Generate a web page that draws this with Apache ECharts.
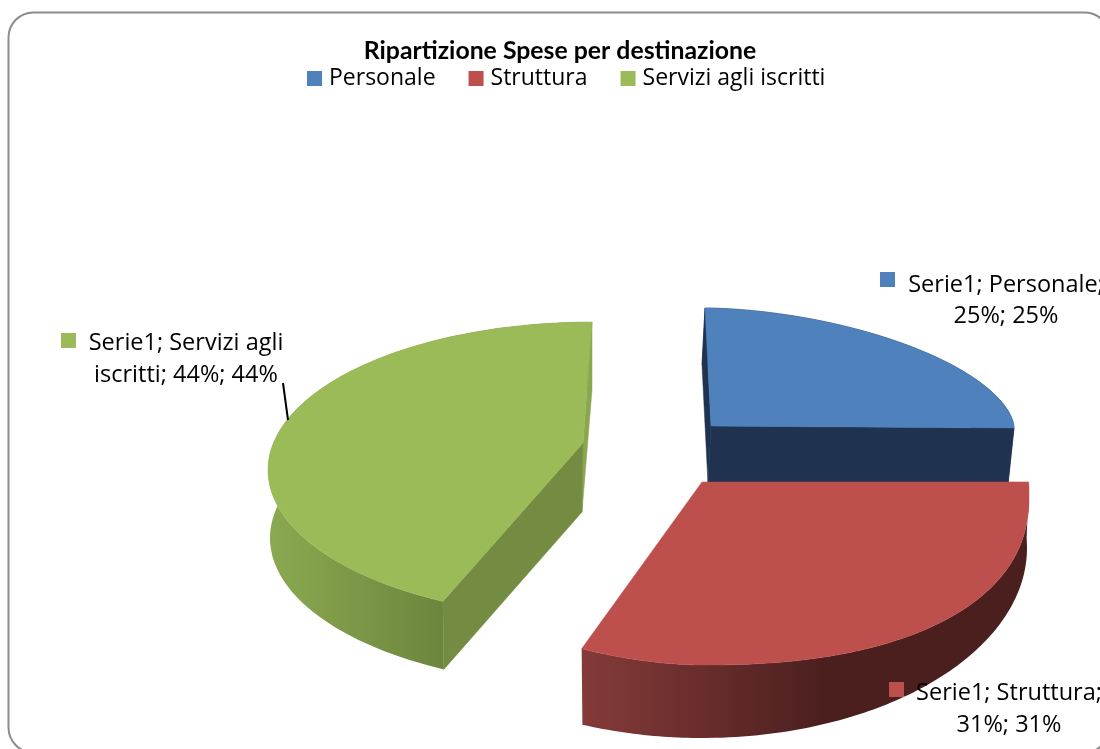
<!DOCTYPE html>
<html>
<head>
<meta charset="utf-8">
<style>html,body{margin:0;padding:0;background:#fff}#c{width:1100px;height:749px}</style>
<script src="https://cdn.jsdelivr.net/npm/echarts@6/dist/echarts.min.js"></script>
</head>
<body>
<div id="c"></div>
<script>
const chartTitle = 'Ripartizione Spese per destinazione';
const categories = ['Personale', 'Struttura', 'Servizi agli iscritti'];
const shares = [25, 31, 44];
const colors = ['#4f81bd', '#bd4f4c', '#9bbb59'];
const labelLines = [
  ['Serie1; Personale;', '25%; 25%'],
  ['Serie1; Struttura;', '31%; 31%'],
  ['Serie1; Servizi agli', 'iscritti; 44%; 44%']
];

// Projection of each exploded slice on the page (perspective view of a thick disc)
const views = [
  { z: 2, apex: [711, 426], apexBase: [708, 484],
    rim: { cx: 705, cy: 428, a: 309, b: 120, p: 1.75 }, base: { cx: 702, cy: 484, a: 306, b: 119 },
    skew: [0, 0], faces: ['#1f3350', '#1f3350'], wall: '#1f3350' },
  { z: 3, apex: [702, 482], apexBase: [702, 482],
    rim: { cx: 702, cy: 495, a: 327, b: 170, p: 2.3, pLeft: 1.8 }, base: { cx: 702, cy: 548, a: 325, b: 190 },
    skew: [-3, 2.4], faces: null,
    wall: { type: 'linear', x: 579, y: 0, x2: 823, y2: 0, global: true,
            colorStops: [{ offset: 0, color: '#853b39' }, { offset: 1, color: '#4c1f1f' }] } },
  { z: 1, apex: [583, 443], apexBase: [582, 512],
    rim: { cx: 592, cy: 470, a: 324, b: 148, p: 2 }, base: { cx: 592, cy: 538, a: 322, b: 148 },
    skew: [5.8, 0], faces: ['#748c42', '#8aa750'],
    wall: { type: 'linear', x: 274, y: 0, x2: 446, y2: 0, global: true,
            colorStops: [{ offset: 0, color: '#8aa850' }, { offset: 1, color: '#6c853d' }] } }
];
const labelBoxes = [
  { key: [880, 272], centre: 1006, lines: [285, 316] },
  { key: [889, 682], centre: 1009, lines: [693, 725] },
  { key: [61, 333], centre: 186, lines: [343, 375] }
];
const leader = [[283, 383], [288, 420]];
const LABEL_FONT = '23.5px "Open Sans"';

const total = shares.reduce((s, v) => s + v, 0);
const rimPower = (e, s) => (s < 0 && e.pLeft) ? e.pLeft : e.p;
// Point of the top rim at angle deg, and the point below it on the base outline
function rimPoint(e, deg) {
  const r = deg * Math.PI / 180, s = Math.sin(r), c = Math.cos(r), q = 2 / rimPower(e, s);
  return [e.cx + e.a * Math.sign(s) * Math.pow(Math.abs(s), q),
          e.cy - e.b * Math.sign(c) * Math.pow(Math.abs(c), q)];
}
function basePoint(v, deg) {
  const r = deg * Math.PI / 180, s = Math.sin(r), c = Math.cos(r);
  const u = Math.sign(s) * Math.pow(Math.abs(s), 2 / rimPower(v.rim, s));
  const w = Math.sign(c) * Math.sqrt(Math.max(0, 1 - u * u));
  return [v.base.cx + v.base.a * u, v.base.cy - v.base.b * w];
}

function renderSlice(params, api) {
  const i = params.seriesIndex, v = views[i];
  const before = shares.slice(0, i).reduce((s, x) => s + x, 0);
  const start = before / total * 360, end = (before + api.value(0)) / total * 360;
  const phi = t => start + (end - start) * t + v.skew[0] * (1 - t) + v.skew[1] * t;
  const N = 120, rim = [], base = [];
  for (let k = 0; k <= N; k++) {
    const p = phi(k / N), a = rimPoint(v.rim, p), b = basePoint(v, p);
    rim.push(a);
    base.push([b[0], Math.max(a[1], b[1])]);
  }
  const poly = (points, fill) => ({ type: 'polygon', shape: { points },
    style: { fill, stroke: typeof fill === 'string' ? fill : null, lineWidth: 0.5 } });
  const children = [];
  children.push(poly(rim.concat(base.slice().reverse()), v.wall));
  if (v.faces) {
    children.push(poly([v.apex, rimPoint(v.rim, phi(1)), basePoint(v, phi(1)), v.apexBase], v.faces[1]));
    children.push(poly([v.apex, rimPoint(v.rim, phi(0)), basePoint(v, phi(0)), v.apexBase], v.faces[0]));
  }
  children.push(poly([v.apex].concat(rim), colors[i]));

  const box = labelBoxes[i];
  children.push({ type: 'rect', shape: { x: box.key[0], y: box.key[1], width: 15, height: 15 }, style: { fill: colors[i] } });
  labelLines[i].forEach((line, n) => children.push({ type: 'text', style: {
    text: line, x: box.centre, y: box.lines[n], font: LABEL_FONT, fill: '#000',
    textAlign: 'center', textVerticalAlign: 'middle' } }));
  return { type: 'group', children };
}

const chart = echarts.init(document.getElementById('c'), null, { renderer: 'canvas' });
chart.setOption({
  animation: false,
  backgroundColor: '#fff',
  title: { text: chartTitle, left: 555, top: 34, textAlign: 'center',
    textStyle: { fontFamily: 'Lato', fontWeight: 'bold', fontSize: 24.8, color: '#000' } },
  legend: { data: categories, left: 302, top: 62, itemWidth: 15, itemHeight: 15, itemGap: 33, icon: 'rect',
    selectedMode: false, textStyle: { fontFamily: 'Open Sans', fontSize: 23, color: '#000', padding: [0, 0, 0, 2] } },
  graphic: [
    { type: 'rect', z: -1, silent: true, shape: { x: 8.5, y: 12.5, width: 1101, height: 740, r: 25 },
      style: { fill: '#fff', stroke: '#8c8c8c', lineWidth: 2 } },
    { type: 'polyline', z: 10, silent: true, shape: { points: leader }, style: { stroke: '#000', lineWidth: 2 } }
  ],
  series: categories.map((name, i) => ({
    type: 'custom', name, coordinateSystem: 'none', z: views[i].z, silent: true, clip: false,
    itemStyle: { color: colors[i] }, renderItem: renderSlice, data: [[shares[i]]]
  }))
});
</script>
</body>
</html>
